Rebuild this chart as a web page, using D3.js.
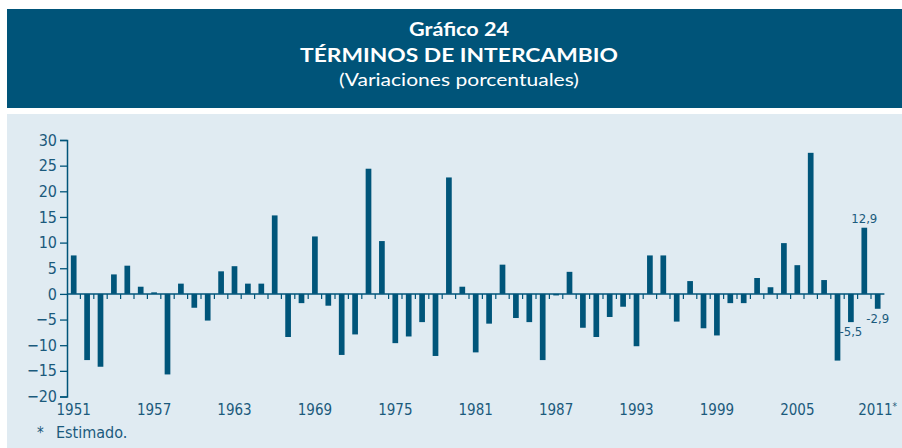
<!DOCTYPE html>
<html>
<head>
<meta charset="utf-8">
<script src="https://cdn.jsdelivr.net/npm/d3@7"></script>
<style>
  body { margin: 0; background: #ffffff; }
  svg { display: block; }
</style>
</head>
<body>
<div id="chart"></div>
<script>
// years and values (% change of the terms of trade)
const years = d3.range(1951, 2012);
const values = [
  7.5, -12.9, -14.2, 3.8, 5.5, 1.4, 0.3, -15.7, 2.0, -2.7,
  -5.2, 4.4, 5.4, 2.0, 2.0, 15.3, -8.4, -1.8, 11.2, -2.3,
  -11.9, -7.9, 24.4, 10.3, -9.6, -8.3, -5.5, -12.1, 22.7, 1.4,
  -11.4, -5.8, 5.7, -4.7, -5.5, -12.9, -0.3, 4.3, -6.6, -8.4,
  -4.5, -2.5, -10.2, 7.5, 7.5, -5.4, 2.5, -6.7, -8.1, -1.8,
  -1.8, 3.1, 1.3, 9.9, 5.6, 27.5, 2.7, -13.0, -5.5, 12.9,
  -2.9
];
const yTicks = [30, 25, 20, 15, 10, 5, 0, -5, -10, -15, -20];
const xTickYears = [1951, 1957, 1963, 1969, 1975, 1981, 1987, 1993, 1999, 2005, 2011];
const labelledYears = [2009, 2010, 2011];

const data = years.map((y, i) => ({ year: y, value: values[i] }));

window.onload = function () {
  const width = 902, height = 448;
  const dark = '#00557a';
  const textCol = '#1b5a7c';

  const svg = d3.select('#chart').append('svg')
    .attr('width', width)
    .attr('height', height);

  // header band
  svg.append('rect')
    .attr('x', 7).attr('y', 9)
    .attr('width', width - 7).attr('height', 99)
    .attr('fill', '#005479');

  const titles = [
    { text: 'Gráfico 24', y: 36, size: 19, weight: 'bold', w: 100 },
    { text: 'TÉRMINOS DE INTERCAMBIO', y: 62, size: 19, weight: 'bold', w: 318 },
    { text: '(Variaciones porcentuales)', y: 86, size: 17, weight: 'normal', w: 240 }
  ];
  svg.selectAll('.title')
    .data(titles)
    .enter()
    .append('text')
    .attr('class', 'title')
    .attr('x', 459)
    .attr('y', d => d.y)
    .attr('text-anchor', 'middle')
    .attr('fill', '#ffffff')
    .style('font-family', 'Lato, "Open Sans", sans-serif')
    .style('font-size', d => d.size + 'px')
    .style('font-weight', d => d.weight)
    .attr('textLength', d => d.w)
    .attr('lengthAdjust', 'spacingAndGlyphs')
    .text(d => d.text);

  // light chart panel
  svg.append('rect')
    .attr('x', 7).attr('y', 114)
    .attr('width', width - 7).attr('height', height - 114)
    .attr('fill', '#e0ebf2');

  const axisFont = '"Liberation Sans Narrow", "DejaVu Sans Condensed", sans-serif';

  // scales
  const left = 67, right = 884.4;
  const x = d3.scaleBand()
    .domain(years)
    .range([left, right])
    .paddingInner(0.575)
    .paddingOuter(0.2875);
  const step = x.step();

  const y = d3.scaleLinear()
    .domain([-20, 30])
    .range([396.5, 140]);

  // bars
  svg.selectAll('.bar')
    .data(data)
    .enter()
    .append('rect')
    .attr('class', 'bar')
    .attr('x', d => x(d.year))
    .attr('y', d => y(Math.max(0, d.value)))
    .attr('width', x.bandwidth())
    .attr('height', d => Math.abs(y(d.value) - y(0)))
    .attr('fill', dark);

  // y axis
  const yAxis = svg.append('g')
    .attr('transform', `translate(${left},0)`)
    .call(d3.axisLeft(y).tickValues(yTicks).tickSize(7).tickPadding(3).tickFormat(d3.format('d')));
  yAxis.select('.domain').attr('stroke', dark).attr('stroke-width', 1.5);
  yAxis.selectAll('.tick line').attr('stroke', dark).attr('stroke-width', 1.3);
  yAxis.selectAll('text')
    .attr('fill', textCol)
    .style('font-family', axisFont)
    .style('font-size', '16px');

  // zero line with small ticks between bars
  svg.append('line')
    .attr('x1', left).attr('x2', right)
    .attr('y1', y(0)).attr('y2', y(0))
    .attr('stroke', dark)
    .attr('stroke-width', 1.5);

  svg.selectAll('.sep')
    .data(years.slice(1))
    .enter()
    .append('line')
    .attr('class', 'sep')
    .attr('x1', d => x(d) + x.bandwidth() / 2 - step / 2)
    .attr('x2', d => x(d) + x.bandwidth() / 2 - step / 2)
    .attr('y1', y(0))
    .attr('y2', y(0) + 5)
    .attr('stroke', dark)
    .attr('stroke-width', 1.2);

  // year labels
  svg.selectAll('.year')
    .data(xTickYears)
    .enter()
    .append('text')
    .attr('class', 'year')
    .attr('x', d => x(d) + x.bandwidth() / 2)
    .attr('y', 415)
    .attr('text-anchor', 'middle')
    .attr('fill', textCol)
    .style('font-family', axisFont)
    .style('font-size', '15px')
    .text(d => d)
    .filter(d => d === 2011)
    .append('tspan')
    .attr('dy', -5)
    .style('font-size', '10px')
    .text('*');

  // value labels on the last years
  svg.selectAll('.vlabel')
    .data(data.filter(d => labelledYears.includes(d.year)))
    .enter()
    .append('text')
    .attr('class', 'vlabel')
    .attr('x', d => x(d.year) + x.bandwidth() / 2)
    .attr('y', d => d.value >= 0 ? y(d.value) - 5 : y(d.value) + 14)
    .attr('text-anchor', 'middle')
    .attr('fill', textCol)
    .style('font-family', axisFont)
    .style('font-size', '13px')
    .text(d => String(d.value).replace('.', ','));

  // footnote
  svg.append('text')
    .attr('x', 37).attr('y', 438)
    .attr('fill', textCol)
    .style('font-family', axisFont)
    .style('font-size', '15px')
    .text('*');
  svg.append('text')
    .attr('x', 56).attr('y', 438)
    .attr('fill', textCol)
    .style('font-family', axisFont)
    .style('font-size', '16px')
    .text('Estimado.');
};
</script>
</body>
</html>
